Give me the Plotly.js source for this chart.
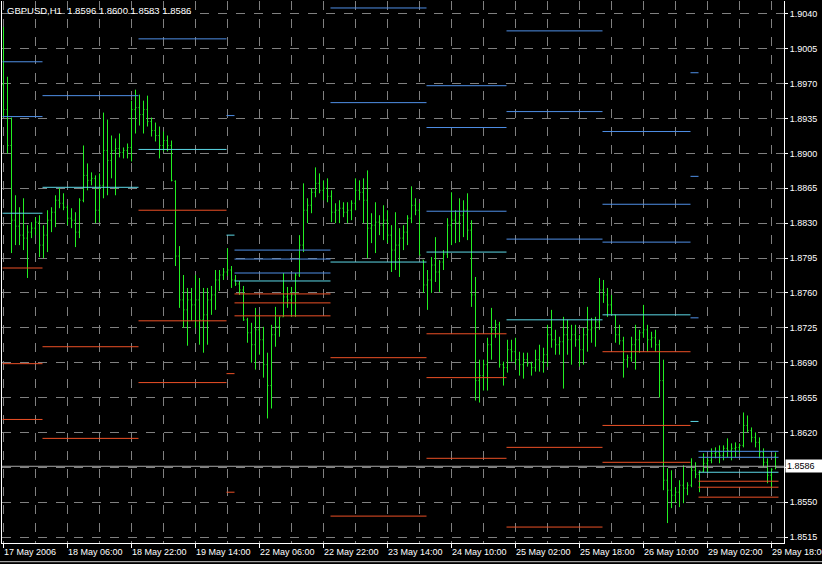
<!DOCTYPE html>
<html>
<head>
<meta charset="utf-8">
<script src="https://cdn.plot.ly/plotly-3.0.1.min.js"></script>
<style>html,body{margin:0;padding:0;background:#000;}#chart{width:822px;height:564px;}</style>
</head>
<body>
<div id="chart"></div>
<script>
// ---- Bars: GBPUSD H1, one entry per hourly bar (index 0 = 17 May 2006 14:00) ----
const barOpen = [1.8969,1.8944,1.8908,1.8833,1.8827,1.8818,1.8815,1.8821,1.8825,1.8831,
1.8808,1.8818,1.8833,1.8841,1.8853,1.8850,1.8846,1.8835,1.8833,1.8821,
1.8853,1.8878,1.8873,1.8875,1.8843,1.8868,1.8903,1.8893,1.8903,1.8905,
1.8901,1.8903,1.8906,1.8944,1.8946,1.8939,1.8944,1.8932,1.8923,1.8918,
1.8908,1.8913,1.8908,1.8872,1.8797,1.8753,1.8743,1.8753,1.8748,1.8753,
1.8733,1.8738,1.8753,1.8758,1.8773,1.8778,1.8781,1.8783,1.8773,1.8769,
1.8763,1.8733,1.8720,1.8708,1.8723,1.8713,1.8688,1.8667,1.8718,1.8726,
1.8736,1.8756,1.8753,1.8758,1.8778,1.8808,1.8843,1.8848,1.8861,1.8870,
1.8863,1.8865,1.8857,1.8841,1.8843,1.8845,1.8841,1.8843,1.8850,1.8863,
1.8861,1.8853,1.8825,1.8828,1.8831,1.8828,1.8833,1.8818,1.8803,1.8808,
1.8815,1.8821,1.8835,1.8848,1.8843,1.8793,1.8768,1.8773,1.8788,1.8781,
1.8791,1.8799,1.8828,1.8833,1.8831,1.8838,1.8843,1.8823,1.8758,1.8672,
1.8677,1.8688,1.8708,1.8723,1.8728,1.8688,1.8685,1.8703,1.8701,1.8693,
1.8688,1.8693,1.8689,1.8685,1.8693,1.8691,1.8698,1.8718,1.8713,1.8708,
1.8711,1.8718,1.8713,1.8718,1.8713,1.8703,1.8718,1.8723,1.8725,1.8731,
1.8763,1.8758,1.8748,1.8738,1.8718,1.8712,1.8693,1.8695,1.8708,1.8713,
1.8720,1.8723,1.8713,1.8715,1.8708,1.8672,1.8572,1.8562,1.8557,1.8560,
1.8567,1.8564,1.8567,1.8582,1.8578,1.8581,1.8589,1.8592,1.8599,1.8600,
1.8597,1.8604,1.8602,1.8604,1.8605,1.8607,1.8627,1.8622,1.8615,1.8610,
1.8600,1.8590,1.8577,1.8596];

const barHigh = [1.9027,1.8977,1.8936,1.8858,1.8846,1.8855,1.8828,1.8831,1.8836,1.8838,
1.8828,1.8843,1.8846,1.8858,1.8865,1.8860,1.8848,1.8845,1.8841,1.8855,
1.8908,1.8890,1.8881,1.8878,1.8880,1.8941,1.8934,1.8918,1.8915,1.8920,
1.8906,1.8910,1.8953,1.8964,1.8959,1.8953,1.8958,1.8936,1.8931,1.8927,
1.8922,1.8918,1.8913,1.8873,1.8807,1.8778,1.8765,1.8765,1.8778,1.8775,
1.8765,1.8765,1.8767,1.8783,1.8783,1.8785,1.8805,1.8787,1.8778,1.8772,
1.8767,1.8735,1.8730,1.8745,1.8739,1.8726,1.8700,1.8728,1.8746,1.8736,
1.8780,1.8766,1.8766,1.8780,1.8818,1.8870,1.8855,1.8865,1.8886,1.8880,
1.8873,1.8875,1.8863,1.8850,1.8853,1.8851,1.8851,1.8853,1.8875,1.8873,
1.8875,1.8883,1.8840,1.8851,1.8838,1.8848,1.8843,1.8828,1.8841,1.8825,
1.8828,1.8838,1.8867,1.8855,1.8850,1.8793,1.8783,1.8796,1.8816,1.8793,
1.8803,1.8835,1.8861,1.8843,1.8855,1.8853,1.8860,1.8833,1.8776,1.8693,
1.8693,1.8715,1.8745,1.8733,1.8731,1.8691,1.8713,1.8713,1.8715,1.8701,
1.8700,1.8700,1.8691,1.8703,1.8708,1.8705,1.8728,1.8743,1.8723,1.8716,
1.8736,1.8733,1.8728,1.8728,1.8718,1.8725,1.8746,1.8735,1.8736,1.8775,
1.8773,1.8765,1.8758,1.8738,1.8728,1.8716,1.8698,1.8716,1.8728,1.8723,
1.8748,1.8728,1.8721,1.8723,1.8713,1.8693,1.8584,1.8582,1.8565,1.8572,
1.8587,1.8570,1.8594,1.8590,1.8582,1.8599,1.8595,1.8604,1.8605,1.8607,
1.8607,1.8614,1.8609,1.8610,1.8609,1.8640,1.8637,1.8625,1.8620,1.8615,
1.8604,1.8594,1.8584,1.8600];

const barLow = [1.8936,1.8900,1.8800,1.8808,1.8808,1.8803,1.8775,1.8815,1.8818,1.8796,
1.8795,1.8801,1.8821,1.8826,1.8845,1.8843,1.8828,1.8825,1.8806,1.8815,
1.8851,1.8863,1.8868,1.8830,1.8831,1.8855,1.8858,1.8875,1.8858,1.8896,
1.8895,1.8895,1.8892,1.8920,1.8928,1.8920,1.8927,1.8917,1.8912,1.8895,
1.8902,1.8902,1.8872,1.8787,1.8745,1.8725,1.8707,1.8732,1.8725,1.8708,
1.8700,1.8708,1.8738,1.8743,1.8762,1.8773,1.8777,1.8765,1.8767,1.8758,
1.8732,1.8710,1.8690,1.8683,1.8698,1.8675,1.8634,1.8644,1.8706,1.8716,
1.8736,1.8745,1.8736,1.8736,1.8776,1.8801,1.8830,1.8840,1.8856,1.8860,
1.8853,1.8851,1.8831,1.8830,1.8830,1.8836,1.8830,1.8833,1.8843,1.8853,
1.8830,1.8795,1.8810,1.8800,1.8818,1.8813,1.8810,1.8781,1.8783,1.8776,
1.8803,1.8808,1.8830,1.8838,1.8798,1.8760,1.8743,1.8760,1.8771,1.8761,
1.8783,1.8795,1.8808,1.8810,1.8811,1.8816,1.8813,1.8746,1.8652,1.8650,
1.8662,1.8662,1.8693,1.8715,1.8685,1.8667,1.8680,1.8691,1.8688,1.8677,
1.8674,1.8686,1.8677,1.8681,1.8681,1.8680,1.8686,1.8705,1.8698,1.8698,
1.8664,1.8698,1.8688,1.8706,1.8686,1.8688,1.8701,1.8710,1.8706,1.8723,
1.8750,1.8736,1.8738,1.8710,1.8708,1.8675,1.8685,1.8691,1.8683,1.8700,
1.8715,1.8701,1.8705,1.8701,1.8655,1.8562,1.8529,1.8544,1.8549,1.8545,
1.8549,1.8557,1.8565,1.8574,1.8560,1.8580,1.8580,1.8589,1.8594,1.8589,
1.8592,1.8595,1.8592,1.8595,1.8599,1.8605,1.8620,1.8610,1.8605,1.8594,
1.8585,1.8569,1.8564,1.8583];

const barClose = [1.8944,1.8908,1.8833,1.8827,1.8818,1.8815,1.8821,1.8825,1.8831,1.8808,
1.8818,1.8833,1.8841,1.8853,1.8850,1.8846,1.8835,1.8833,1.8821,1.8853,
1.8878,1.8873,1.8875,1.8843,1.8868,1.8903,1.8893,1.8903,1.8905,1.8901,
1.8903,1.8906,1.8944,1.8946,1.8939,1.8944,1.8932,1.8923,1.8918,1.8908,
1.8913,1.8908,1.8873,1.8797,1.8753,1.8743,1.8753,1.8748,1.8753,1.8733,
1.8738,1.8753,1.8758,1.8773,1.8778,1.8781,1.8783,1.8773,1.8769,1.8763,
1.8733,1.8720,1.8708,1.8723,1.8713,1.8688,1.8667,1.8718,1.8726,1.8736,
1.8756,1.8753,1.8758,1.8778,1.8808,1.8843,1.8848,1.8861,1.8870,1.8863,
1.8865,1.8857,1.8841,1.8843,1.8845,1.8841,1.8843,1.8850,1.8863,1.8861,
1.8853,1.8825,1.8828,1.8831,1.8828,1.8833,1.8818,1.8803,1.8808,1.8815,
1.8821,1.8835,1.8848,1.8843,1.8798,1.8768,1.8773,1.8788,1.8781,1.8791,
1.8799,1.8828,1.8833,1.8831,1.8838,1.8843,1.8823,1.8758,1.8672,1.8677,
1.8688,1.8708,1.8723,1.8728,1.8688,1.8685,1.8703,1.8701,1.8693,1.8688,
1.8693,1.8689,1.8685,1.8693,1.8691,1.8698,1.8718,1.8713,1.8708,1.8711,
1.8718,1.8713,1.8718,1.8713,1.8703,1.8718,1.8723,1.8725,1.8731,1.8763,
1.8758,1.8748,1.8738,1.8718,1.8712,1.8693,1.8695,1.8708,1.8713,1.8720,
1.8723,1.8713,1.8715,1.8708,1.8672,1.8572,1.8562,1.8557,1.8560,1.8567,
1.8564,1.8567,1.8582,1.8578,1.8581,1.8589,1.8592,1.8599,1.8600,1.8597,
1.8604,1.8602,1.8604,1.8605,1.8607,1.8627,1.8622,1.8615,1.8610,1.8600,
1.8590,1.8577,1.8583,1.8586];

// ---- Trading days (first and last bar index of each day) ----
const dayStart = [0, 10, 34, 56, 58, 82, 106, 126, 150, 172, 174];
const dayEnd   = [9, 33, 55, 57, 81, 105, 125, 149, 171, 173, 193];

// ---- Daily pivot levels: day index, price, kind (R resistance, P pivot, S support) ----
const levelDay   = [0,0,0,0,0,0, 1,1,1,1, 2,2,2,2,2, 3,3,3,3, 4,4,4,4,4,4,4, 5,5,5,5,5,
                    6,6,6,6,6,6,6, 7,7,7,7,7,7, 8,8,8,8,8,8,8, 9,9,9,9, 10,10,10,10,10,10];
const levelPrice = [1.8992,1.8937,1.8840,1.8785,1.8689,1.8633,
                    1.8958,1.8866,1.8706,1.8614,
                    1.9015,1.8904,1.8843,1.8732,1.8670,
                    1.8938,1.8818,1.8679,1.8560,
                    1.8803,1.8794,1.8780,1.8772,1.8759,1.8750,1.8737,
                    1.9046,1.8951,1.8791,1.8695,1.8536,
                    1.8968,1.8926,1.8842,1.8801,1.8719,1.8675,1.8594,
                    1.9023,1.8942,1.8814,1.8733,1.8605,1.8525,
                    1.8922,1.8849,1.8811,1.8738,1.8701,1.8627,1.8590,
                    1.8981,1.8877,1.8735,1.8631,
                    1.8601,1.8595,1.8580,1.8571,1.8565,1.8555];
const levelKind  = ['R','R','P','S','S','S', 'R','P','S','S', 'R','P','S','S','S', 'R','P','S','S',
                    'R','R','R','P','S','S','S', 'R','R','P','S','S',
                    'R','R','R','P','S','S','S', 'R','R','R','P','S','S',
                    'R','R','R','P','S','S','S', 'R','R','R','P',
                    'R','R','P','S','S','S'];

// ---- Axis labels ----
const timeTickIdx  = [0,16,32,48,64,80,96,112,128,144,160,176,192];
const timeTickText = ['17 May 2006','18 May 06:00','18 May 22:00','19 May 14:00','22 May 06:00',
                      '22 May 22:00','23 May 14:00','24 May 10:00','25 May 02:00','25 May 18:00',
                      '26 May 10:00','29 May 02:00','29 May 18:00'];
const priceTicks     = [1.8515,1.8550,1.8585,1.8620,1.8655,1.8690,1.8725,1.8760,1.8795,1.8830,
                        1.8865,1.8900,1.8935,1.8970,1.9005,1.9040];
const priceTickText  = ['1.8515','1.8550','','1.8620','1.8655','1.8690','1.8725','1.8760','1.8795','1.8830',
                        '1.8865','1.8900','1.8935','1.8970','1.9005','1.9040'];
const bidPrice = 1.8586;
const titleText = 'GBPUSD,H1  1.8596 1.8600 1.8583 1.8586';

// ---- Build traces ----
const barIdx = barOpen.map((_, i) => i);
const kindColor = {R: '#4f8fe6', P: '#5cd8e6', S: '#ec5026'};

const levelTraces = ['R', 'P', 'S'].map(k => {
  const xs = [], ys = [];
  levelPrice.forEach((p, j) => {
    if (levelKind[j] !== k) return;
    const d = levelDay[j];
    xs.push(dayStart[d] - 0.25, dayEnd[d] + 0.75, null);
    ys.push(p, p, null);
  });
  return {type: 'scatter', mode: 'lines', x: xs, y: ys, hoverinfo: 'skip',
          line: {color: kindColor[k], width: 1}, showlegend: false};
});

const barGreen = '#22f022';
const bars = {
  type: 'ohlc', x: barIdx, open: barOpen, high: barHigh, low: barLow, close: barClose,
  increasing: {line: {color: barGreen, width: 1}},
  decreasing: {line: {color: barGreen, width: 1}},
  tickwidth: 0.25, hoverinfo: 'skip', showlegend: false
};

const axisFont = {family: 'Liberation Sans, Arial, sans-serif', size: 9, color: '#ffffff'};
const gridCol = '#808080';

const annotations = timeTickIdx.map((t, k) => ({
  x: t, xref: 'x', y: 0, yref: 'paper', yanchor: 'top', xanchor: 'left',
  yshift: -2, xshift: -1.5, text: timeTickText[k], showarrow: false, font: axisFont
}));
annotations.push({
  x: 0, xref: 'paper', y: 1, yref: 'paper', xanchor: 'left', yanchor: 'top',
  xshift: 3, yshift: -2, text: titleText, showarrow: false,
  font: {family: 'Liberation Sans, Arial, sans-serif', size: 9.5, color: '#ffffff'}
});
annotations.push({
  x: 1, xref: 'paper', y: bidPrice, yref: 'y', xanchor: 'left', yanchor: 'middle',
  xshift: 1, text: bidPrice.toFixed(4), showarrow: false, bgcolor: '#ffffff',
  width: 36, align: 'left', borderpad: 1,
  font: {family: 'Liberation Sans, Arial, sans-serif', size: 9, color: '#000000'}
});

const layout = {
  width: 822, height: 564,
  margin: {l: 2, r: 38, t: 1, b: 21},
  paper_bgcolor: '#000000', plot_bgcolor: '#000000',
  showlegend: false,
  xaxis: {
    range: [-0.375, 195.125], rangeslider: {visible: false},
    tickmode: 'linear', tick0: 0, dtick: 16,
    ticks: 'outside', ticklen: 4, tickcolor: '#ffffff', showticklabels: false,
    showgrid: true, gridcolor: gridCol, griddash: 'dash', gridwidth: 1,
    minor: {tickmode: 'linear', tick0: 0, dtick: 8, showgrid: true, gridcolor: gridCol, griddash: 'dash', ticks: ''},
    showline: true, linecolor: '#ffffff', linewidth: 1, zeroline: false, fixedrange: true
  },
  yaxis: {
    range: [1.8509, 1.9053], side: 'right',
    tickmode: 'array', tickvals: priceTicks, ticktext: priceTickText,
    ticks: 'outside', ticklen: 3, tickcolor: '#ffffff', tickfont: axisFont,
    showgrid: true, gridcolor: gridCol, griddash: 'dash', gridwidth: 1,
    showline: true, linecolor: '#ffffff', linewidth: 1, mirror: true, zeroline: false, fixedrange: true
  },
  shapes: [
    {type: 'line', xref: 'paper', x0: 0, x1: 1, yref: 'y', y0: bidPrice, y1: bidPrice,
     line: {color: '#a8a8a8', width: 1}},
    {type: 'line', xref: 'paper', x0: -0.003, x1: 1.05, yref: 'paper', y0: -0.0345, y1: -0.0345,
     line: {color: '#c8c8c8', width: 1}}
  ],
  annotations: annotations
};

Plotly.newPlot('chart', [...levelTraces, bars], layout, {displayModeBar: false, staticPlot: true});
</script>
</body>
</html>
